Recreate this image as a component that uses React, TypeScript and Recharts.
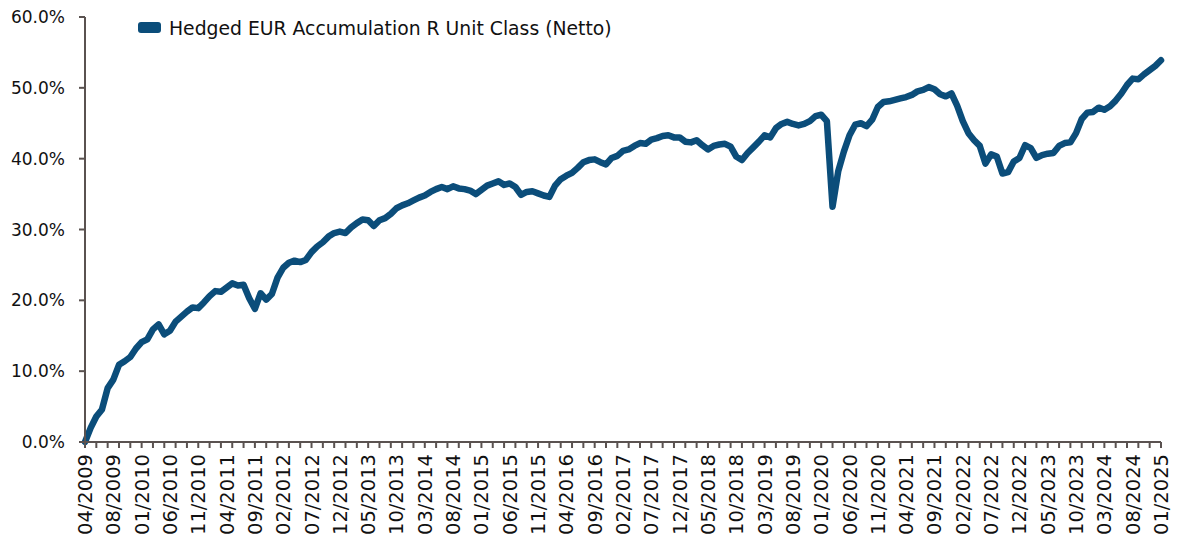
import React from "react";
import { LineChart, Line, XAxis, YAxis, Legend } from "recharts";

// Month-end performance since inception (%), one point per category
const returns: number[] = [
  0.0, 2.0, 3.6, 4.6, 7.6, 8.8, 10.9, 11.4, 12.0, 13.2,
  14.1, 14.5, 15.9, 16.6, 15.2, 15.7, 17.0, 17.7, 18.4, 19.0,
  18.9, 19.7, 20.6, 21.3, 21.2, 21.8, 22.4, 22.1, 22.2, 20.3,
  18.8, 21.0, 20.1, 20.9, 23.2, 24.6, 25.3, 25.6, 25.4, 25.7,
  26.8, 27.6, 28.2, 29.0, 29.5, 29.7, 29.5, 30.3, 30.9, 31.4,
  31.3, 30.5, 31.3, 31.6, 32.2, 33.0, 33.4, 33.7, 34.1, 34.5,
  34.8, 35.3, 35.7, 36.0, 35.7, 36.1, 35.8, 35.7, 35.5, 35.0,
  35.6, 36.2, 36.5, 36.8, 36.3, 36.5, 36.0, 34.9, 35.3, 35.4,
  35.1, 34.8, 34.6, 36.2, 37.1, 37.6, 38.0, 38.7, 39.5, 39.8,
  39.9, 39.5, 39.2, 40.1, 40.4, 41.1, 41.3, 41.8, 42.2, 42.1,
  42.7, 42.9, 43.2, 43.3, 43.0, 43.0, 42.4, 42.3, 42.6, 41.9,
  41.3, 41.8, 42.0, 42.1, 41.7, 40.3, 39.8, 40.8, 41.6, 42.4,
  43.3, 43.0, 44.3, 44.9, 45.2, 44.9, 44.7, 44.9, 45.3, 46.0,
  46.2, 45.3, 33.2, 38.2, 41.0, 43.3, 44.8, 45.0, 44.6, 45.5,
  47.3, 48.0, 48.1, 48.3, 48.5, 48.7, 49.0, 49.5, 49.7, 50.1,
  49.8, 49.1, 48.8, 49.2, 47.5, 45.3, 43.6, 42.6, 41.8, 39.3,
  40.6, 40.3, 37.9, 38.1, 39.6, 40.1, 41.9, 41.5, 40.1, 40.5,
  40.7, 40.8, 41.8, 42.2, 42.3, 43.6, 45.6, 46.5, 46.6, 47.2,
  46.9, 47.4, 48.2, 49.2, 50.4, 51.3, 51.2, 51.9, 52.5, 53.1,
  53.9,
];

// Category labels shown every 5th category
const tickLabels: string[] = [
  "04/2009", "08/2009", "01/2010", "06/2010", "11/2010", "04/2011", "09/2011",
  "02/2012", "07/2012", "12/2012", "05/2013", "10/2013", "03/2014", "08/2014",
  "01/2015", "06/2015", "11/2015", "04/2016", "09/2016", "02/2017", "07/2017",
  "12/2017", "05/2018", "10/2018", "03/2019", "08/2019", "01/2020", "06/2020",
  "11/2020", "04/2021", "09/2021", "02/2022", "07/2022", "12/2022", "05/2023",
  "10/2023", "03/2024", "08/2024", "01/2025",
];

const yTicks: number[] = [0, 10, 20, 30, 40, 50, 60];
const seriesName = "Hedged EUR Accumulation R Unit Class (Netto)";

const LINE_COLOR = "#0B4D7A";
const AXIS_COLOR = "#5A5250";
const TEXT_COLOR = "#111111";
const FONT = "'DejaVu Sans', Verdana, sans-serif";

const data = returns.map((v, i) => ({ i, v }));
const lastIndex = returns.length - 1;
const LABEL_STEP = 5;
const MINOR_STEP = 2;
const xTicks: number[] = [];
for (let k = 0; k <= lastIndex; k++) {
  if (k % MINOR_STEP === 0 || k % LABEL_STEP === 0) xTicks.push(k);
}

const XTick = (props: any) => {
  const { x, y, payload } = props;
  const idx = payload.value as number;
  const ty = y + 12;
  return (
    <g>
      {idx % MINOR_STEP === 0 && (
        <line x1={x} y1={y} x2={x} y2={y + 6} stroke={AXIS_COLOR} strokeWidth={2} />
      )}
      {idx % LABEL_STEP === 0 && (
        <text
          x={x}
          y={ty}
          transform={`rotate(-90, ${x}, ${ty})`}
          textAnchor="end"
          dy="0.36em"
          fontSize={19.5}
          fontFamily={FONT}
          fill={TEXT_COLOR}
        >
          {tickLabels[idx / LABEL_STEP]}
        </text>
      )}
    </g>
  );
};

const LegendContent = () => (
  <div style={{ position: "relative", width: 500, height: 26, fontFamily: FONT }}>
    <span
      style={{
        position: "absolute",
        left: 0,
        top: 6,
        width: 23,
        height: 11,
        borderRadius: 3,
        background: LINE_COLOR,
      }}
    />
    <span
      style={{
        position: "absolute",
        left: 31,
        top: 0,
        lineHeight: "26px",
        fontSize: 18.8,
        color: TEXT_COLOR,
        whiteSpace: "nowrap",
      }}
    >
      {seriesName}
    </span>
  </div>
);

export default function App() {
  return (
    <div style={{ width: 1177, height: 536 }}>
      <style>{"body{margin:0;}"}</style>
      <LineChart
        width={1177}
        height={536}
        data={data}
        margin={{ top: 17, right: 16, bottom: 0, left: 0 }}
      >
        <XAxis
          dataKey="i"
          type="number"
          domain={[0, lastIndex]}
          ticks={xTicks}
          interval={0}
          height={94}
          tickSize={0}
          tickMargin={0}
          tickLine={false}
          tick={<XTick />}
          axisLine={{ stroke: AXIS_COLOR, strokeWidth: 2 }}
        />
        <YAxis
          type="number"
          domain={[0, 60]}
          ticks={yTicks}
          width={85}
          tickSize={6}
          tickMargin={14}
          tickFormatter={(v: number) => `${v.toFixed(1)}%`}
          tick={{ fontSize: 17, fill: TEXT_COLOR, fontFamily: FONT }}
          tickLine={{ stroke: AXIS_COLOR, strokeWidth: 2 }}
          axisLine={{ stroke: AXIS_COLOR, strokeWidth: 2 }}
        />
        <Legend
          layout="vertical"
          align="center"
          verticalAlign="middle"
          wrapperStyle={{ top: 16, left: 138, width: 500 }}
          content={<LegendContent />}
        />
        <Line
          type="linear"
          dataKey="v"
          name={seriesName}
          stroke={LINE_COLOR}
          strokeWidth={6.5}
          strokeLinejoin="round"
          strokeLinecap="round"
          dot={false}
          activeDot={false}
          isAnimationActive={false}
        />
      </LineChart>
    </div>
  );
}
